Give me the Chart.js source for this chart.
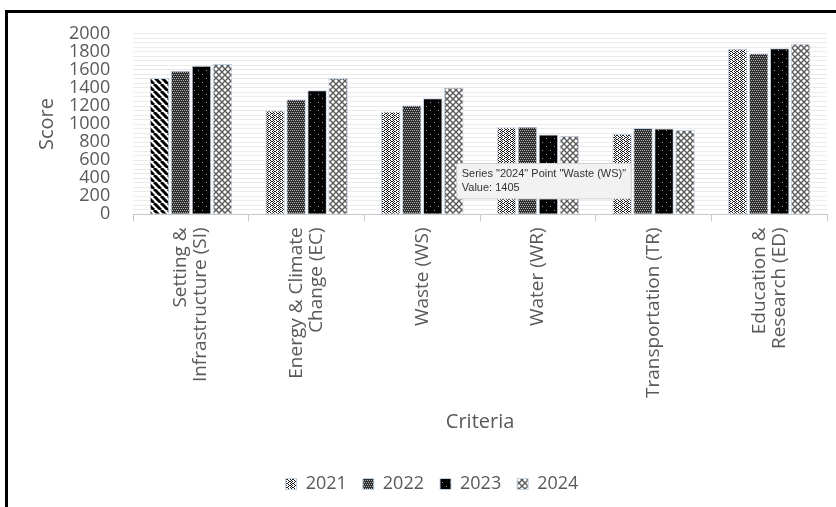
<!DOCTYPE html>
<html>
<head>
<meta charset="utf-8">
<script src="https://cdn.jsdelivr.net/npm/chart.js@4/dist/chart.umd.min.js"></script>
<style>
  body { margin: 0; background: #fff; }
  canvas { display: block; }
</style>
</head>
<body>
<canvas id="scoreChart" width="836" height="507"></canvas>
<script>
// criteria and yearly scores
const categories = [
  ["Setting &", "Infrastructure (SI)"],
  ["Energy & Climate", "Change (EC)"],
  "Waste (WS)",
  "Water (WR)",
  "Transportation (TR)",
  ["Education &", "Research (ED)"],
];
const years = ["2021", "2022", "2023", "2024"];
const scores2021 = [1510, 1150, 1140, 965, 890, 1835];
const scores2022 = [1590, 1275, 1210, 970, 958, 1785];
const scores2023 = [1645, 1375, 1285, 885, 950, 1840];
const scores2024 = [1665, 1510, 1405, 870, 935, 1890];
const yMax = 2000;
const yLabelStep = 200;
const yGridStep = 50;

// little pattern tiles, like the excel fills
function makePattern(w, h, draw) {
  const tile = document.createElement("canvas");
  tile.width = w;
  tile.height = h;
  const t = tile.getContext("2d");
  draw(t, w, h);
  return t.createPattern(tile, "repeat");
}
function pixelPattern(rows, dark, light) {
  return makePattern(rows[0].length, rows.length, (t) => {
    rows.forEach((row, y) => {
      [...row].forEach((c, x) => {
        t.fillStyle = c === "#" ? dark : light;
        t.fillRect(x, y, 1, 1);
      });
    });
  });
}

const stripes = makePattern(7, 7, (t, w, h) => {
  t.fillStyle = "#fff";
  t.fillRect(0, 0, w, h);
  t.strokeStyle = "#000";
  t.lineWidth = 3;
  for (const off of [-7, 0, 7]) {
    t.beginPath();
    t.moveTo(off, 0);
    t.lineTo(off + 7, 7);
    t.stroke();
  }
});
const confetti = pixelPattern(["#..#..", ".##.#.", "#..#..", "..#.##"], "#1a1a1a", "#fff");
const darkCheck = pixelPattern(["#.#.", "####", ".#.#", "####"], "#2e2e2e", "#b0b0b0");
const blackDots = pixelPattern(
  ["########", "########", "##.#####", "########", "########", "########", "######.#", "########"],
  "#000", "#9a9a9a"
);
const lattice = makePattern(6, 6, (t, w, h) => {
  t.fillStyle = "#fff";
  t.fillRect(0, 0, w, h);
  t.strokeStyle = "#5a5a5a";
  t.lineWidth = 1.4;
  t.beginPath();
  t.moveTo(0, 0); t.lineTo(6, 6);
  t.moveTo(6, 0); t.lineTo(0, 6);
  t.stroke();
});

const legendFills = [confetti, darkCheck, blackDots, lattice];
const barEdge = "#c3d1e4";

// the hover box excel left in the screenshot
Chart.Tooltip.positioners.excelHover = function (items) {
  if (!items.length) return false;
  const el = items[0].element;
  return { x: el.x + 5, y: el.y + 76 };
};

// outer frame: left and top black lines
const framePlugin = {
  id: "frame",
  beforeDraw(chart) {
    const c = chart.ctx;
    c.save();
    c.fillStyle = "#fff";
    c.fillRect(0, 0, chart.width, chart.height);
    c.restore();
  },
  afterDraw(chart) {
    const c = chart.ctx;
    c.save();
    c.fillStyle = "#000";
    c.fillRect(5, 10, 3, chart.height - 10);
    c.fillRect(5, 10, chart.width - 3, 3);
    c.restore();
  },
};

const font = "'Open Sans', sans-serif";
const textGray = "#595959";
const lineGap = 20; // spacing of two-line category labels

const chart = new Chart(document.getElementById("scoreChart"), {
  type: "bar",
  data: {
    labels: categories,
    datasets: [
      { label: years[0], data: scores2021, backgroundColor: [stripes, confetti, confetti, confetti, confetti, confetti] },
      { label: years[1], data: scores2022, backgroundColor: darkCheck },
      { label: years[2], data: scores2023, backgroundColor: blackDots },
      { label: years[3], data: scores2024, backgroundColor: lattice },
    ],
  },
  options: {
    responsive: false,
    animation: false,
    layout: { padding: { left: 37, right: 9, top: 27, bottom: 4 } },
    datasets: {
      bar: {
        borderColor: barEdge,
        borderWidth: 1,
        categoryPercentage: 0.726,
        barPercentage: 0.93,
      },
    },
    scales: {
      x: {
        grid: { drawOnChartArea: false, color: "#c8c8c8", tickLength: 7, offset: true },
        border: { color: "#c8c8c8" },
        ticks: {
          maxRotation: 90,
          minRotation: 90,
          padding: 6,
          labelOffset: -lineGap / 2,
          color: textGray,
          // single-line names get a blank first line so every label sits centred on its tick
          callback: (v, i) => (Array.isArray(categories[i]) ? categories[i] : ["", categories[i]]),
          font: (ctx) => ({
            family: font,
            size: 19,
            lineHeight: (Array.isArray(categories[ctx.index]) ? lineGap : lineGap / 2) + "px",
          }),
        },
        title: {
          display: true,
          text: "Criteria",
          color: textGray,
          font: { family: font, size: 20 },
          padding: { top: 6, bottom: 17 },
        },
      },
      y: {
        min: 0,
        max: yMax,
        grid: { color: "#ebebeb", drawTicks: false },
        border: { display: false },
        ticks: {
          stepSize: yGridStep,
          autoSkip: false,
          maxTicksLimit: 100,
          padding: 23,
          color: textGray,
          font: { family: font, size: 18 },
          callback: (v) => (v % yLabelStep === 0 ? String(v) : ""),
        },
        title: {
          display: true,
          text: "Score",
          color: textGray,
          font: { family: font, size: 20 },
          padding: { top: -2, bottom: -13 },
        },
      },
    },
    plugins: {
      legend: {
        position: "bottom",
        // empty title only adds a little room above the legend row
        title: { display: true, text: "", font: { size: 8, lineHeight: "8px" }, padding: 0 },
        labels: {
          boxWidth: 11,
          boxHeight: 11,
          padding: 16,
          color: textGray,
          font: { family: font, size: 18 },
          generateLabels(ch) {
            const items = Chart.defaults.plugins.legend.labels.generateLabels(ch);
            items.forEach((it, i) => {
              it.fillStyle = legendFills[i];
              it.strokeStyle = barEdge;
              it.lineWidth = 1;
            });
            return items;
          },
        },
      },
      tooltip: {
        enabled: true,
        animation: false,
        position: "excelHover",
        xAlign: "left",
        yAlign: "top",
        caretSize: 0,
        caretPadding: 0,
        cornerRadius: 2,
        displayColors: false,
        backgroundColor: "#f2f2f2",
        borderColor: "#d2d2d2",
        borderWidth: 1,
        titleColor: "#333",
        bodyColor: "#333",
        titleFont: { family: "'Liberation Sans', Arial, sans-serif", size: 11, weight: "normal" },
        bodyFont: { family: "'Liberation Sans', Arial, sans-serif", size: 11 },
        titleMarginBottom: 1,
        padding: { x: 5, y: 4 },
        callbacks: {
          title: (items) => {
            const lab = categories[items[0].dataIndex];
            const name = Array.isArray(lab) ? lab.join(" ") : lab;
            return `Series "${years[items[0].datasetIndex]}" Point "${name}"`;
          },
          label: (item) => `Value: ${item.raw}`,
        },
      },
    },
  },
  plugins: [framePlugin],
});

// show the hover box on the 2024 Waste bar
chart.tooltip.setActiveElements([{ datasetIndex: 3, index: 2 }], { x: 0, y: 0 });
chart.draw();
</script>
</body>
</html>
